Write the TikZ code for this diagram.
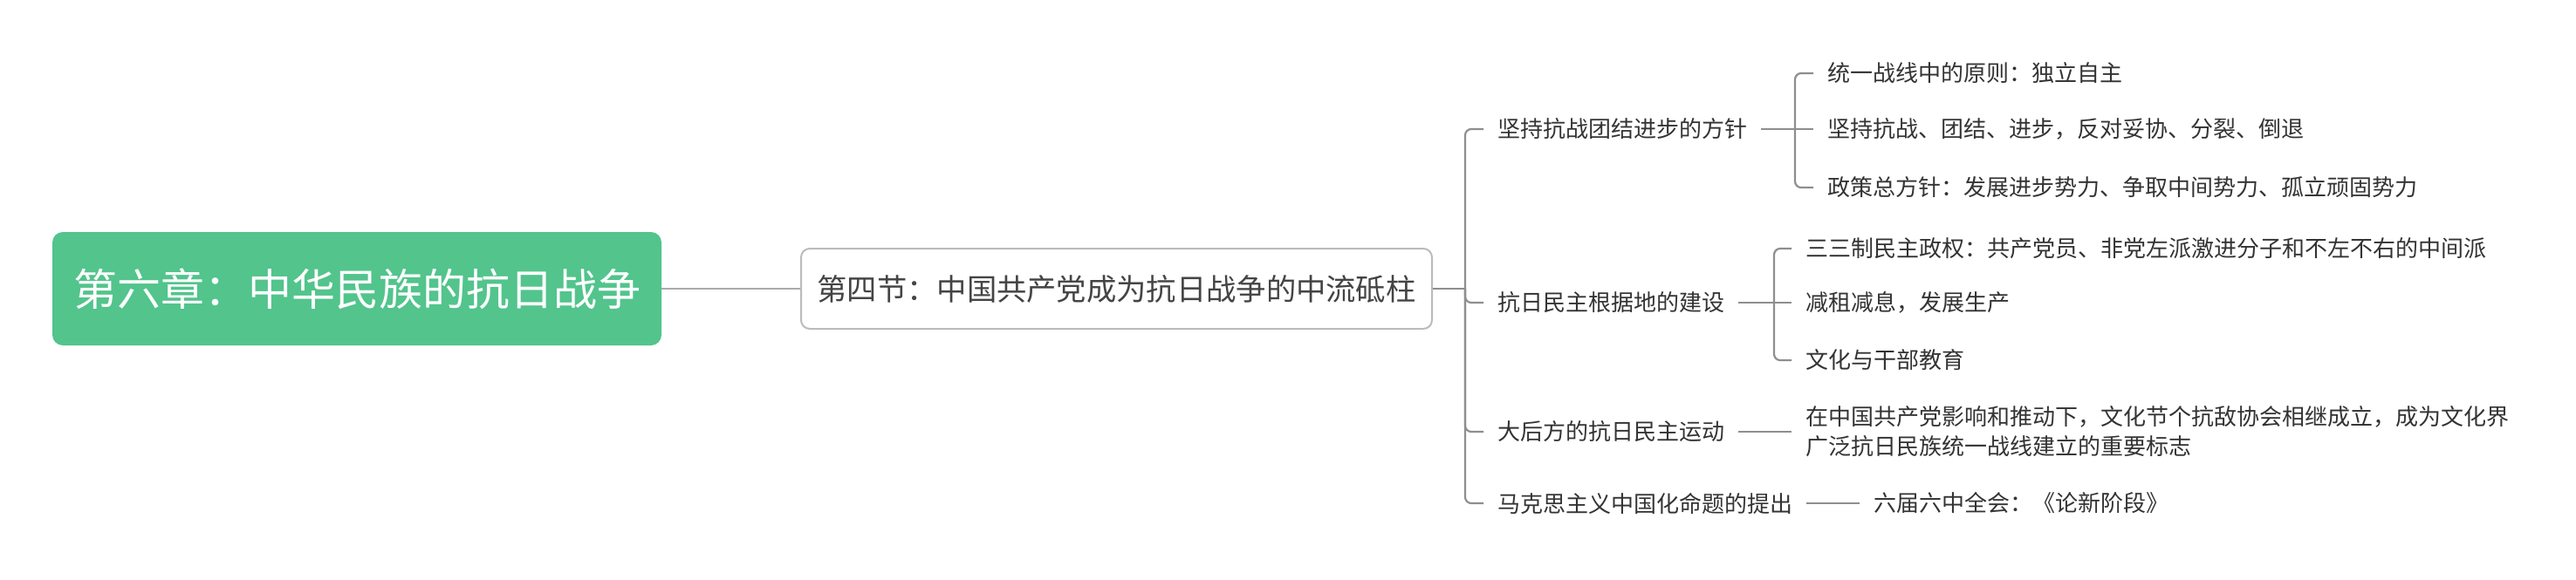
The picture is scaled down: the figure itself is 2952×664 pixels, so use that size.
\documentclass[tikz,border=0pt]{standalone}
\usepackage{fontspec}
\newfontfamily\cjk{Noto Sans CJK SC}
\definecolor{rootgreen}{HTML}{52C48C}
\definecolor{boxgray}{HTML}{BBBBBB}
\definecolor{rootline}{HTML}{AAAAAA}
\definecolor{branchline}{HTML}{8E8E8E}
\definecolor{txtdark}{HTML}{333333}
\definecolor{txtsec}{HTML}{444444}
\begin{document}
\begin{tikzpicture}[x=1pt,y=-1pt,
  rootbox/.style={fill=rootgreen,rounded corners=12pt,minimum width=698pt,minimum height=130pt,inner sep=0pt,
    text=white,font=\cjk\fontsize{50}{56}\selectfont},
  secbox/.style={draw=boxgray,line width=2pt,fill=white,rounded corners=10pt,minimum width=723pt,minimum height=92pt,inner sep=0pt,
    text=txtsec,font=\cjk\fontsize{34.3}{40}\selectfont},
  leaf/.style={anchor=west,inner xsep=16pt,inner ysep=0pt,text=txtdark,font=\cjk\fontsize{26}{34}\selectfont},
  rootconn/.style={draw=rootline,line width=2.2pt},
  conn/.style={draw=branchline,line width=2.2pt,rounded corners=7pt}]
\useasboundingbox (0,0) rectangle (2952,664);
% root and section
\node[rootbox] (root) at (409,331) {第六章：中华民族的抗日战争};
\node[secbox] (sec) at (1279.5,331) {第四节：中国共产党成为抗日战争的中流砥柱};
\draw[rootconn] (root.east) -- (sec.west);
% level 2
\node[leaf] (a) at (1700,148) {坚持抗战团结进步的方针};
\node[leaf] (b) at (1700,347) {抗日民主根据地的建设};
\node[leaf] (c) at (1700,495) {大后方的抗日民主运动};
\node[leaf] (d) at (1700,577) {马克思主义中国化命题的提出};
\coordinate (s0) at (1679,331);
\draw[conn] (sec.east) -- (s0);
\draw[conn] (s0) |- (a.west);
\draw[conn] (s0) |- (b.west);
\draw[conn] (s0) |- (c.west);
\draw[conn] (s0) |- (d.west);
% level 3 under a
\node[leaf] (a1) at (2078,84) {统一战线中的原则：独立自主};
\node[leaf] (a2) at (2078,148) {坚持抗战、团结、进步，反对妥协、分裂、倒退};
\node[leaf] (a3) at (2078,215) {政策总方针：发展进步势力、争取中间势力、孤立顽固势力};
\coordinate (sa) at (2057,148);
\draw[conn] (a.east) -- (sa);
\draw[conn] (sa) |- (a1.west);
\draw[conn] (sa) -- (a2.west);
\draw[conn] (sa) |- (a3.west);
% level 3 under b
\node[leaf] (b1) at (2053,285) {三三制民主政权：共产党员、非党左派激进分子和不左不右的中间派};
\node[leaf] (b2) at (2053,347) {减租减息，发展生产};
\node[leaf] (b3) at (2053,413) {文化与干部教育};
\coordinate (sb) at (2033,347);
\draw[conn] (b.east) -- (sb);
\draw[conn] (sb) |- (b1.west);
\draw[conn] (sb) -- (b2.west);
\draw[conn] (sb) |- (b3.west);
% level 3 under c and d
\node[leaf,align=left] (c1) at (2053,495) {在中国共产党影响和推动下，文化节个抗敌协会相继成立，成为文化界\\广泛抗日民族统一战线建立的重要标志};
\draw[conn] (c.east) -- (c1.west);
\node[leaf] (d1) at (2131,577) {六届六中全会：《论新阶段》};
\draw[conn] (d.east) -- (d1.west);
\end{tikzpicture}
\end{document}
